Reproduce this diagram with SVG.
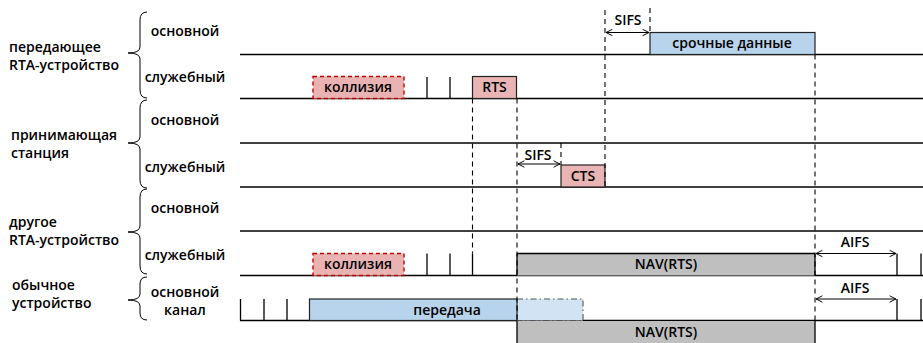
<svg xmlns="http://www.w3.org/2000/svg" width="923" height="343" viewBox="0 0 923 343">
<defs>
<marker id="ah" viewBox="0 0 10 10" refX="9" refY="5" markerWidth="8" markerHeight="8" markerUnits="userSpaceOnUse" orient="auto-start-reverse">
<path d="M1,1 L9,5 L1,9" fill="none" stroke="#000" stroke-width="1.2"/>
</marker>
<style>
text{font-family:"Open Sans","Noto Sans",sans-serif;font-size:14px;font-weight:600;fill:#000}
.c{text-anchor:middle}
.ln{stroke:#000;stroke-width:1.3;fill:none}
.dash{stroke:#000;stroke-width:1.1;stroke-dasharray:5,4;fill:none}
.tick{stroke:#000;stroke-width:1.3}
.brace{stroke:#000;stroke-width:1;fill:none}
.coll{fill:#eab3b3;stroke:#c00000;stroke-width:1.4;stroke-dasharray:4,3}
.pink{fill:#e8b4b4;stroke:#222;stroke-width:1.2}
.blue{fill:#b7d4ec;stroke:#222;stroke-width:1.2}
.lblue{fill:#d2e3f3;stroke:#555;stroke-width:1.1;stroke-dasharray:6,3,1.5,3}
.gray{fill:#bfbfbf;stroke:none}
.arr{stroke:#000;stroke-width:1.1;marker-start:url(#ah);marker-end:url(#ah)}
</style>
</defs>

<g id="labels">
<text x="9" y="52">передающее</text>
<text x="9" y="70">RTA-устройство</text>
<text x="11" y="140">принимающая</text>
<text x="11" y="158">станция</text>
<text x="9" y="227">другое</text>
<text x="9" y="245">RTA-устройство</text>
<text x="12" y="290">обычное</text>
<text x="12" y="308">устройство</text>
<text class="c" x="185" y="36">основной</text>
<text class="c" x="185" y="82">служебный</text>
<text class="c" x="185" y="125">основной</text>
<text class="c" x="185" y="172">служебный</text>
<text class="c" x="185" y="213">основной</text>
<text class="c" x="185" y="260">служебный</text>
<text class="c" x="185" y="297">основной</text>
<text class="c" x="185" y="315">канал</text>
</g>

<g id="braces">
<path class="brace" d="M147,12 Q140,12 140,20 L140,47 Q140,53 128,53 Q140,53 140,59 L140,90 Q140,98 147,98"/>
<path class="brace" d="M147,100 Q140,100 140,108 L140,137 Q140,143 128,143 Q140,143 140,149 L140,180 Q140,188 147,188"/>
<path class="brace" d="M147,189 Q140,189 140,197 L140,226 Q140,232 128,232 Q140,232 140,238 L140,266 Q140,274 147,274"/>
<path class="brace" d="M147,277 Q140,277 140,284 L140,294 Q140,300 128,300 Q140,300 140,306 L140,313 Q140,320 147,320"/>
</g>

<g id="timelines">
<line class="ln" x1="240" y1="54.5" x2="923" y2="54.5"/>
<line class="ln" x1="240" y1="98.5" x2="923" y2="98.5"/>
<line class="ln" x1="240" y1="143" x2="923" y2="143"/>
<line class="ln" x1="240" y1="187" x2="923" y2="187"/>
<line class="ln" x1="240" y1="231" x2="923" y2="231"/>
<line class="ln" x1="240" y1="275.5" x2="923" y2="275.5"/>
<line class="ln" x1="240" y1="320.5" x2="923" y2="320.5"/>
</g>

<g id="tx-rta">
<rect class="coll" x="313" y="76.5" width="91" height="22"/>
<text class="c" x="358" y="92">коллизия</text>
<line class="tick" x1="427" y1="77" x2="427" y2="98.5"/>
<line class="tick" x1="450" y1="77" x2="450" y2="98.5"/>
<rect class="pink" x="472.5" y="76.5" width="44" height="22"/>
<text class="c" x="494.5" y="92">RTS</text>
<rect class="blue" x="650" y="32.5" width="165" height="22"/>
<text class="c" x="732" y="48">срочные данные</text>
</g>

<g id="rx-station">
<rect class="pink" x="561" y="165" width="44" height="22"/>
<text class="c" x="583" y="181">CTS</text>
</g>

<g id="other-rta">
<rect class="coll" x="313" y="253.5" width="91" height="22"/>
<text class="c" x="358" y="269">коллизия</text>
<line class="tick" x1="427" y1="253.5" x2="427" y2="275.5"/>
<line class="tick" x1="450" y1="253.5" x2="450" y2="275.5"/>
<line class="tick" x1="472.5" y1="253.5" x2="472.5" y2="275.5"/>
<rect class="gray" x="517" y="253.5" width="298" height="22"/>
<line class="ln" x1="517" y1="253.5" x2="815" y2="253.5"/>
<text class="c" x="666" y="269">NAV(RTS)</text>
<line class="tick" x1="897" y1="253.5" x2="897" y2="275.5"/>
<line class="tick" x1="921" y1="253.5" x2="921" y2="275.5"/>
</g>

<g id="legacy">
<line class="tick" x1="240.5" y1="299" x2="240.5" y2="320.5"/>
<line class="tick" x1="264" y1="299" x2="264" y2="320.5"/>
<line class="tick" x1="287" y1="299" x2="287" y2="320.5"/>
<rect class="lblue" x="517" y="299" width="66" height="21.5"/>
<rect class="blue" x="309.5" y="299" width="207.5" height="21.5"/>
<text class="c" x="447" y="315">передача</text>
<rect class="gray" x="517" y="321" width="298" height="22"/>
<text class="c" x="666" y="337">NAV(RTS)</text>
<line class="tick" x1="897" y1="299" x2="897" y2="320.5"/>
<line class="tick" x1="921" y1="299" x2="921" y2="320.5"/>
</g>

<g id="connectors">
<line class="dash" x1="472.5" y1="98.5" x2="472.5" y2="253.5"/>
<line class="dash" x1="517" y1="98.5" x2="517" y2="321"/>
<line class="ln" x1="517" y1="253.5" x2="517" y2="275.5"/>
<line class="ln" x1="517" y1="321" x2="517" y2="343"/>
<line class="dash" x1="605" y1="10" x2="605" y2="187"/>
<line class="dash" x1="650" y1="8" x2="650" y2="32.5"/>
<line class="dash" x1="561" y1="143" x2="561" y2="165"/>
<line class="dash" x1="815" y1="54.5" x2="815" y2="321"/>
<line class="ln" x1="815" y1="253.5" x2="815" y2="275.5"/>
<line class="ln" x1="815" y1="321" x2="815" y2="343"/>
<line class="arr" x1="606" y1="32.5" x2="649" y2="32.5"/>
<text class="c" x="628" y="25">SIFS</text>
<line class="arr" x1="518" y1="164" x2="560" y2="164"/>
<text class="c" x="538" y="160">SIFS</text>
<line class="arr" x1="816" y1="253.5" x2="896" y2="253.5"/>
<text class="c" x="855" y="247">AIFS</text>
<line class="arr" x1="816" y1="299" x2="896" y2="299"/>
<text class="c" x="855" y="293">AIFS</text>
</g>
</svg>
